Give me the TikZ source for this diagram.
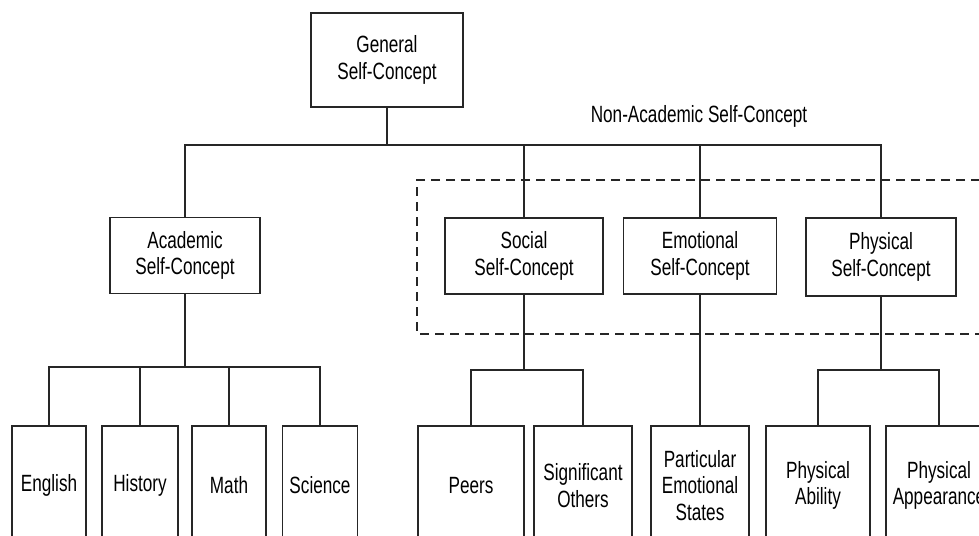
\documentclass[tikz,border=0pt]{standalone}
\usepackage{fontspec}
\setmainfont[FakeStretch=0.73]{Liberation Sans}
\begin{document}
\begin{tikzpicture}[x=1pt,y=-1pt,
  every node/.style={font=\fontsize{23.5}{26.5}\selectfont},
  line/.style={line width=1.8pt, draw=black!85},
  box/.style={line, draw, rectangle, align=center, inner sep=0pt},
  midbox/.style={box, minimum height=76pt},
  leafbox/.style={box, minimum height=119pt},
  dashbox/.style={line width=1.8pt, draw=black!85, dash pattern=on 9pt off 6pt}
]
\useasboundingbox (0,0) rectangle (979,535);
% top
\node[box, minimum width=152pt, minimum height=94pt] (gen) at (387,60) {General\\Self-Concept};
\node (nonacad) at (699,116) {Non-Academic Self-Concept};
% second level
\node[midbox, minimum width=150pt] (acad) at (185,255.5) {Academic\\Self-Concept};
\node[midbox, minimum width=158pt] (soc) at (524,256) {Social\\Self-Concept};
\node[midbox, minimum width=153pt] (emo) at (700,256) {Emotional\\Self-Concept};
\node[midbox, minimum width=150pt, minimum height=78pt] (phy) at (881,257) {Physical\\Self-Concept};
% dashed frame
\draw[dashbox] (995,180) -- (417,180) -- (417,334) -- (995,334);
% leaves
\node[leafbox, minimum width=74pt] (eng) at (49,485.5) {English};
\node[leafbox, minimum width=76pt] (hist) at (140,485.5) {History};
\node[leafbox, minimum width=74pt] (math) at (229,485.5) {Math};
\node[leafbox, minimum width=75pt] (sci) at (320,485.5) {Science};
\node[leafbox, minimum width=106pt] (peers) at (471,485.5) {Peers};
\node[leafbox, minimum width=98pt] (sig) at (583,485.5) {Significant\\Others};
\node[leafbox, minimum width=98pt] (part) at (700,485.5) {Particular\\Emotional\\States};
\node[leafbox, minimum width=104pt] (abil) at (818,485.5) {Physical\\Ability};
\node[leafbox, minimum width=106pt] (appr) at (939,485.5) {Physical\\Appearance};
% connectors
\coordinate (topbar) at (387,145);
\coordinate (acbar) at (185,367);
\coordinate (sobar) at (524,370);
\coordinate (phbar) at (881,370);
\draw[line] (gen.south) -- (topbar);
\draw[line] (acad.north) |- (topbar) -| (phy.north);
\draw[line] (soc.north) -- (soc.north |- topbar);
\draw[line] (emo.north) -- (emo.north |- topbar);
\draw[line] (acad.south) -- (acbar);
\draw[line] (eng.north) |- (acbar) -| (sci.north);
\draw[line] (hist.north) -- (hist.north |- acbar);
\draw[line] (math.north) -- (math.north |- acbar);
\draw[line] (soc.south) -- (sobar);
\draw[line] (peers.north) |- (sobar) -| (sig.north);
\draw[line] (emo.south) -- (part.north);
\draw[line] (phy.south) -- (phbar);
\draw[line] (abil.north) |- (phbar) -| (appr.north);
\end{tikzpicture}
\end{document}
